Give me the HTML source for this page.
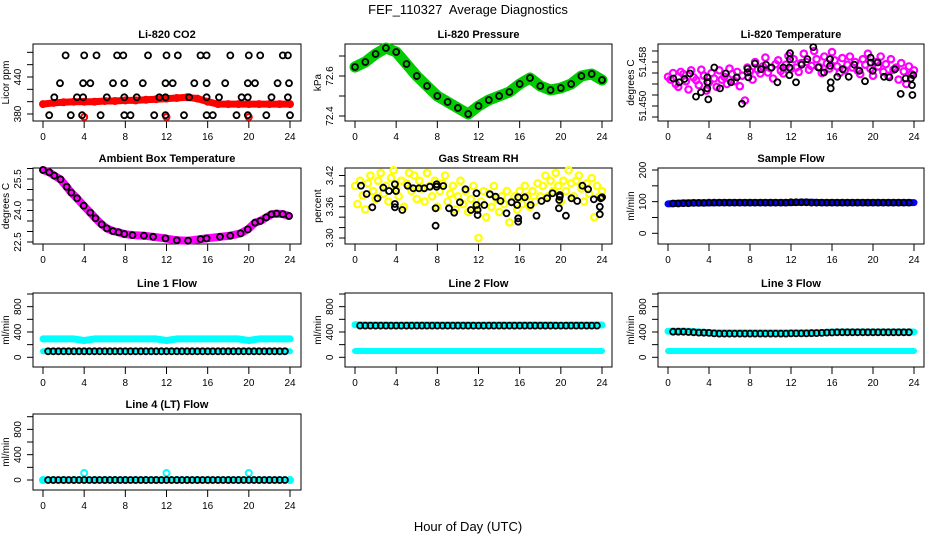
<!DOCTYPE html>
<html><head><meta charset="utf-8"><style>
html,body{margin:0;padding:0;background:#fff;}
svg{display:block;font-family:"Liberation Sans",Arial,sans-serif;}
</style></head><body>
<svg id="chart" width="936" height="540" viewBox="0 0 936 540" xmlns="http://www.w3.org/2000/svg">
<text x="468" y="14" text-anchor="middle" font-size="13">FEF_110327&#160; Average Diagnostics</text>
<text x="468" y="531" text-anchor="middle" font-size="13">Hour of Day (UTC)</text>
</svg>
<script>
// ---------- data ----------
const xTickLabels = [0,4,8,12,16,20,24];
const quarterHours = []; for (let i=0;i<=96;i++) quarterHours.push(i/4);
const hourly = []; for (let i=0;i<=24;i++) hourly.push(i);
const halfHours = []; for (let i=1;i<=47;i++) halfHours.push(i/2);

// Li-820 CO2
const co2Hours = [2.2,4.0,5.2,7.2,7.8,10.2,12.0,13.1,15.3,15.9,18.2,20.0,21.1,23.3,23.8,
 1.65,3.9,4.6,6.8,7.9,9.7,11.9,12.6,14.7,15.9,17.7,19.9,20.6,22.8,23.9,
 1.1,3.3,3.9,6.2,7.9,9.1,11.3,11.9,14.2,15.9,17.1,19.3,19.9,22.2,23.8,
 0.6,2.7,3.8,5.6,7.9,8.5,10.8,11.9,13.7,15.9,16.5,18.8,19.9,21.7,24.0];
const co2Vals = [475,475,475,475,475,475,475,475,475,475,475,475,475,475,475,
 430,430,430,430,430,430,430,430,430,430,430,430,430,430,430,
 407,407,407,407,407,407,407,407,407,407,407,407,407,407,407,
 378,378,378,378,378,378,378,378,378,378,378,378,378,378,378];
const co2Band = [396,398,399,400,400,400,401,401,402,402,403,404,405,406,407,405,400,396,396,396,396,396,396,396,396];
const co2OutHours = [4.0,12.0,20.0];
const co2OutVals = [375,375,375];

// Li-820 Pressure
const presBand = [72.645,72.67,72.71,72.74,72.72,72.66,72.60,72.55,72.50,72.47,72.44,72.41,72.45,72.48,72.50,72.52,72.56,72.59,72.55,72.53,72.54,72.56,72.60,72.61,72.58];

// Li-820 Temperature
const ltBlackHours = [0.52,1.1,1.6,2.15,2.73,3.22,3.83,3.83,3.83,3.93,4.52,5.07,5.63,6.15,6.7,7.22,7.77,7.77,7.84,8.49,9.07,9.56,10.1,10.67,11.25,11.84,11.9,11.9,11.84,12.49,13.04,13.6,14.18,14.67,15.22,15.8,15.8,15.87,15.87,16.52,17.04,17.63,18.18,18.67,19.22,19.77,19.77,19.97,20.46,21.07,21.6,22.15,22.7,23.19,23.7,23.8,23.84,23.93];
const ltBlackVals = [51.4550,51.4543,51.4549,51.4559,51.4517,51.4525,51.4552,51.4543,51.4532,51.4512,51.4570,51.4532,51.4559,51.4543,51.4552,51.4504,51.4568,51.4561,51.4552,51.4577,51.4567,51.4575,51.4570,51.4543,51.4570,51.4570,51.4596,51.4585,51.4556,51.4543,51.4575,51.4585,51.4607,51.4570,51.4561,51.4585,51.4573,51.4543,51.4532,51.4553,51.4567,51.4553,51.4575,51.4564,51.4545,51.4588,51.4579,51.4564,51.4579,51.4553,51.4552,51.4567,51.4522,51.4550,51.4550,51.4538,51.4520,51.4556];
const ltMagenta = [51.4553,51.4548,51.4560,51.4540,51.4535,51.4562,51.4558,51.4545,51.4530,51.4565,51.4552,51.4547,51.4538,51.4566,51.4555,51.4528,51.4543,51.4560,51.4550,51.4535,51.4565,51.4548,51.4553,51.4540,51.4568,
 51.4558,51.4545,51.4562,51.4536,51.4555,51.4510,51.4570,51.4563,51.4548,51.4580,51.4566,51.4559,51.4572,51.4588,51.4561,51.4569,51.4550,51.4576,51.4583,51.4564,51.4559,51.4575,51.4591,51.4568,
 51.4585,51.4570,51.4562,51.4578,51.4595,51.4580,51.4566,51.4573,51.4600,51.4585,51.4571,51.4560,51.4590,51.4577,51.4568,51.4598,51.4583,51.4572,51.4560,51.4587,51.4565,51.4575,51.4590,51.4570,
 51.4580,51.4565,51.4558,51.4585,51.4575,51.4595,51.4568,51.4555,51.4580,51.4572,51.4590,51.4562,51.4576,51.4555,51.4585,51.4566,51.4570,51.4548,51.4578,51.4563,51.4540,51.4572,51.4558,51.4565];

// Ambient Box Temperature
const ambHours = [0,0.6,1.1,1.7,2.3,2.75,3.3,3.95,4.6,5.1,5.7,6.2,6.8,7.35,7.9,8.7,9.8,10.7,11.9,13,14.1,15.3,15.9,17.2,18.2,19.2,19.9,20.6,21.1,21.7,22.2,22.7,23.3,23.9];
const ambVals = [25.93,25.82,25.66,25.48,25.13,24.85,24.58,24.23,23.90,23.63,23.34,23.15,23.02,22.96,22.88,22.83,22.80,22.75,22.67,22.58,22.56,22.64,22.67,22.75,22.80,22.91,23.10,23.42,23.50,23.67,23.82,23.85,23.83,23.74];

// Gas Stream RH
const rhBlackHours = [0.58,1.13,1.68,2.2,2.75,3.3,3.88,3.88,3.88,3.98,4.6,5.11,5.66,6.21,6.73,7.28,7.83,7.83,7.93,7.93,8.58,9.13,9.64,10.19,10.74,11.26,11.81,11.81,11.91,11.91,12.56,13.11,13.66,14.14,14.72,15.21,15.76,15.86,15.86,15.86,16.5,17.06,17.64,18.12,18.67,19.19,19.81,19.84,19.9,19.9,20.49,21.04,21.59,22.1,22.65,23.2,23.79,23.79,23.88,24.01];
const rhBlackVals = [3.4005,3.3845,3.3589,3.3762,3.3966,3.3902,3.3653,3.3589,3.4031,3.3902,3.3538,3.4005,3.3954,3.3954,3.3954,3.3985,3.3236,3.357,3.3985,3.4031,3.3998,3.357,3.3486,3.3685,3.3935,3.3538,3.3858,3.3634,3.3538,3.3442,3.3634,3.3839,3.3793,3.371,3.3474,3.3685,3.3634,3.3781,3.3378,3.3313,3.3781,3.3634,3.3428,3.371,3.3762,3.3858,3.357,3.373,3.3826,3.3793,3.3428,3.3762,3.371,3.4005,3.3935,3.3743,3.3601,3.3455,3.3762,3.3781];
const rhYellow = [3.40,3.365,3.41,3.382,3.355,3.405,3.42,3.39,3.375,3.41,3.425,3.385,3.40,3.37,3.415,3.43,3.395,3.38,3.41,3.36,3.405,3.425,3.39,3.42,3.375,
 3.41,3.395,3.37,3.425,3.40,3.38,3.41,3.36,3.39,3.405,3.42,3.37,3.385,3.40,3.355,3.38,3.41,3.365,3.39,3.35,3.375,3.40,3.36,3.30,
 3.37,3.39,3.34,3.385,3.36,3.40,3.375,3.35,3.38,3.365,3.39,3.33,3.37,3.38,3.355,3.39,3.365,3.40,3.38,3.36,3.39,3.37,3.405,3.38,
 3.40,3.42,3.38,3.41,3.39,3.425,3.40,3.37,3.41,3.39,3.43,3.405,3.38,3.41,3.42,3.395,3.37,3.405,3.385,3.415,3.34,3.40,3.38,3.39];

// Sample Flow
const sampleBand = [93,95,96,96,96,97,97,97,97,97,97,97,97,98,98,97,97,97,97,97,97,97,97,97,97];
const sampleBlack = [94,94,95,95,96,96,96,97,97,97,
 97,97,97,97,97,97,97,97,97,97,
 97,97,97,98,98,98,98,97,97,97,
 97,97,97,97,97,97,97,97,97,97,
 97,97,97,97,97,97,97];

// Line 1
const l1CyanHigh = [290,290,290,290,265,290,290,290,290,290,290,290,265,290,290,290,290,290,290,290,265,290,290,290,290];
const l1CyanLow = [95,95,95,95,95,95,95,95,95,95,95,95,95,95,95,95,95,95,95,95,95,95,95,95,95];
const l1Black = [95,95,95,95,95,95,95,95,95,95,95,95,95,95,95,95,95,95,95,95,95,95,95,95,95,95,95,95,95,95,95,95,95,95,95,95,95,95,95,95,95,95,95,95,95,95,95];
// Line 2
const l2CyanHigh = [515,510,510,510,505,510,510,510,510,510,510,510,505,510,510,510,510,510,510,510,505,510,510,510,510];
const l2CyanLow = [100,100,100,100,100,100,100,100,100,100,100,100,100,100,100,100,100,100,100,100,100,100,100,100,100];
const l2Black = [500,500,500,500,500,500,500,500,500,500,500,500,500,500,500,500,500,500,500,500,500,500,500,500,500,500,500,500,500,500,500,500,500,500,500,500,500,500,500,500,500,500,500,500,500,500,500];
// Line 3
const l3CyanHigh = [410,410,410,400,390,385,385,385,385,385,385,385,385,385,390,390,400,400,400,400,400,400,400,400,400];
const l3CyanLow = [100,100,100,100,100,100,100,100,100,100,100,100,100,100,100,100,100,100,100,100,100,100,100,100,100];
const l3Black = [405,405,405,400,395,390,388,385,378,375,
 375,375,375,375,375,375,375,375,375,375,
 375,375,375,378,378,378,378,380,382,385,
 390,392,395,395,395,395,395,395,395,395,
 395,395,395,395,395,395,395];
// Line 4
const l4Cyan = [0,0,0,0,110,0,0,0,0,0,0,0,110,0,0,0,0,0,0,0,110,0,0,0,0];
const l4Black = [0,0,0,0,0,0,0,0,0,0,0,0,0,0,0,0,0,0,0,0,0,0,0,0,0,0,0,0,0,0,0,0,0,0,0,0,0,0,0,0,0,0,0,0,0,0,0];

// ---------- drawing ----------
const svg = document.getElementById('chart');
const NS = 'http://www.w3.org/2000/svg';
const colX0 = [43,355,668], colX24 = [290,602,914];
const boxL = [33,345,658], boxR = [301,612,924];
const boxT = [44,168,293,414], boxB = [121,244,367,490];

function mk(tag, attrs, parent) {
  const e = document.createElementNS(NS, tag);
  for (const k in attrs) e.setAttribute(k, attrs[k]);
  (parent || svg).appendChild(e);
  return e;
}

function panel(col, row, title, ylab, v0, p0, v1, p1, ticks, labels, fmt, name) {
  const g = mk('g', {});
  
  
  const xs = h => colX0[col] + (colX24[col] - colX0[col]) * h / 24;
  const ys = v => p0 + (v - v0) * (p1 - p0) / (v1 - v0);
  const L = boxL[col], R = boxR[col], T = boxT[row], B = boxB[row];
  const t = mk('text', {x: (L + R) / 2, y: T - 6, 'text-anchor': 'middle', 'font-size': 11, 'font-weight': 'bold'}, g);
  t.textContent = title;
  
  
  const box = mk('rect', {x: L, y: T, width: R - L, height: B - T, fill: 'none', stroke: '#000', 'stroke-width': 1}, g);
  
  
  xTickLabels.forEach(h => {
    const x = xs(h);
    const tk = mk('line', {x1: x, x2: x, y1: B, y2: B + 7, stroke: '#000'}, g);
    
    
    const tl = mk('text', {x: x, y: B + 19, 'text-anchor': 'middle', 'font-size': 10}, g);
    tl.textContent = h;
    
    
  });
  ticks.forEach(v => {
    const y = ys(v);
    const tk = mk('line', {x1: L - 6, x2: L, y1: y, y2: y, stroke: '#000'}, g);
    
    
  });
  labels.forEach(v => {
    const y = ys(v), x = L - 12;
    const tl = mk('text', {x: x, y: y, 'text-anchor': 'middle', 'font-size': 10, transform: 'rotate(-90 ' + x + ' ' + y + ')'}, g);
    tl.textContent = fmt(v);
    
    
  });
  const yx = L - 24, yy = (T + B) / 2;
  const yt = mk('text', {x: yx, y: yy, 'text-anchor': 'middle', 'font-size': 10, transform: 'rotate(-90 ' + yx + ' ' + yy + ')'}, g);
  yt.textContent = ylab;
  
  
  const clip = mk('g', {}, g);
  return {xs, ys, g: clip};
}

function band(p, hours, vals, color, width, name) {
  const pts = hours.map((h, i) => p.xs(h).toFixed(1) + ',' + p.ys(vals[i]).toFixed(1)).join(' ');
  const pl = mk('polyline', {points: pts, fill: 'none', stroke: color, 'stroke-width': width, 'stroke-linejoin': 'round', 'stroke-linecap': 'round'}, p.g);
  
  
}
function pts(p, hours, vals, color, r, sw, name) {
  hours.forEach((h, i) => {
    const c = mk('circle', {cx: p.xs(h).toFixed(1), cy: p.ys(vals[i]).toFixed(1), r: r, fill: 'none', stroke: color, 'stroke-width': sw}, p.g);
    
    
  });
}
const f0 = v => String(v);
const f1 = v => v.toFixed(1);
const f2 = v => v.toFixed(2);
const f3 = v => v.toFixed(3);

// CO2
let p = panel(0, 0, 'Li-820 CO2', 'Licor ppm', 380, 114, 440, 77, [380,400,420,440,460,480], [380,440], f0, 'co2');
band(p, hourly, co2Band, '#ff0000', 7, 'co2-band');
pts(p, hourly, co2Band, '#ff0000', 3, 2, 'co2-red-point');
pts(p, co2OutHours, co2OutVals, '#ff0000', 3, 2, 'co2-red-outlier');
pts(p, co2Hours, co2Vals, '#000', 3, 1.8, 'co2-black-point');

// Pressure
p = panel(1, 0, 'Li-820 Pressure', 'kPa', 72.4, 116, 72.6, 76, [72.4,72.5,72.6,72.7], [72.4,72.6], f1, 'pressure');
band(p, hourly, presBand, '#00cc00', 11, 'pressure-band');
pts(p, hourly, presBand, '#000', 3, 1.8, 'pressure-black-point');

// Li temperature
p = panel(2, 0, 'Li-820 Temperature', 'degrees C', 51.450, 106, 51.458, 62, [51.448,51.450,51.452,51.454,51.456,51.458,51.460], [51.450,51.458], f3, 'li-temp');
pts(p, quarterHours, ltMagenta, '#ff00ff', 3.2, 2.2, 'li-temp-magenta-point');
pts(p, ltBlackHours, ltBlackVals, '#000', 3, 1.8, 'li-temp-black-point');

// Ambient
p = panel(0, 1, 'Ambient Box Temperature', 'degrees C', 22.5, 242, 25.5, 179, [22.5,23,23.5,24,24.5,25,25.5,26], [22.5,24.0,25.5], f1, 'ambient');
band(p, ambHours, ambVals, '#ff00ff', 8, 'ambient-band');
pts(p, ambHours, ambVals, '#000', 3, 1.8, 'ambient-black-point');

// RH
p = panel(1, 1, 'Gas Stream RH', 'percent', 3.30, 238, 3.42, 175.5, [3.30,3.32,3.34,3.36,3.38,3.40,3.42], [3.30,3.36,3.42], f2, 'rh');
pts(p, quarterHours, rhYellow, '#ffff00', 3.2, 2.2, 'rh-yellow-point');
pts(p, rhBlackHours, rhBlackVals, '#000', 3, 1.8, 'rh-black-point');

// Sample flow
p = panel(2, 1, 'Sample Flow', 'ml/min', 0, 233.3, 200, 170, [0,50,100,150,200], [0,100,200], f0, 'sample-flow');
band(p, hourly, sampleBand, '#0000ff', 7, 'sample-flow-band');
pts(p, halfHours, sampleBlack, '#000', 3, 1.8, 'sample-flow-black-point');

const flowTicks = [0,200,400,600,800,1000], flowLabels = [0,400,800];
// Line 1
p = panel(0, 2, 'Line 1 Flow', 'ml/min', 0, 357.3, 1000, 294, flowTicks, flowLabels, f0, 'line1');
band(p, hourly, l1CyanHigh, '#00ffff', 7, 'line1-cyan-high');
band(p, hourly, l1CyanLow, '#00ffff', 6, 'line1-cyan-low');
pts(p, halfHours, l1Black, '#000', 3, 1.8, 'line1-black-point');
// Line 2
p = panel(1, 2, 'Line 2 Flow', 'ml/min', 0, 357.3, 1000, 294, flowTicks, flowLabels, f0, 'line2');
band(p, hourly, l2CyanHigh, '#00ffff', 7, 'line2-cyan-high');
band(p, hourly, l2CyanLow, '#00ffff', 6, 'line2-cyan-low');
pts(p, halfHours, l2Black, '#000', 3, 1.8, 'line2-black-point');
// Line 3
p = panel(2, 2, 'Line 3 Flow', 'ml/min', 0, 357.3, 1000, 294, flowTicks, flowLabels, f0, 'line3');
band(p, hourly, l3CyanHigh, '#00ffff', 7, 'line3-cyan-high');
band(p, hourly, l3CyanLow, '#00ffff', 6, 'line3-cyan-low');
pts(p, halfHours, l3Black, '#000', 3, 1.8, 'line3-black-point');
// Line 4
p = panel(0, 3, 'Line 4 (LT) Flow', 'ml/min', 0, 480, 1000, 416.7, flowTicks, flowLabels, f0, 'line4');
band(p, hourly, l4Cyan.map(() => 0), '#00ffff', 6, 'line4-cyan-band');
pts(p, hourly, l4Cyan, '#00ffff', 3, 2, 'line4-cyan-point');
pts(p, halfHours, l4Black, '#000', 3, 1.8, 'line4-black-point');
</script>
</body></html>
